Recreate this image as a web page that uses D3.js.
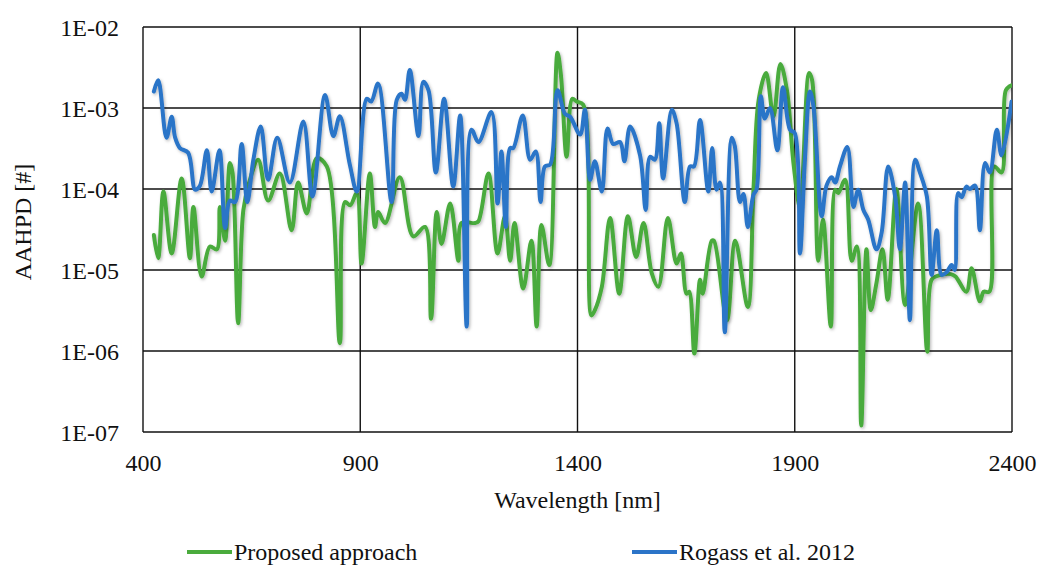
<!DOCTYPE html>
<html>
<head>
<meta charset="utf-8">
<script src="https://cdn.jsdelivr.net/npm/d3@7"></script>
<style>
  body { margin: 0; background: #fff; }
  svg { display: block; font-family: "Liberation Serif", "Times New Roman", serif; }
  .tick text { font-size: 24px; fill: #111; font-family: "Liberation Serif", "Times New Roman", serif; }
</style>
</head>
<body>
<div id="chart"></div>
<script>
// wavelength [nm] and AAHPD values
const proposedWl = [425, 435, 447, 466, 489, 508, 516, 535, 554, 570, 577, 589, 600, 606, 619, 631, 646, 665, 688, 715, 742, 757, 777, 800, 823, 853, 865, 877, 892, 903, 922, 934, 941, 957, 991, 1022, 1049, 1063, 1076, 1087, 1107, 1126, 1133, 1164, 1172, 1195, 1216, 1233, 1245, 1255, 1275, 1294, 1306, 1317, 1335, 1354, 1362, 1375, 1388, 1398, 1413, 1432, 1440, 1456, 1475, 1496, 1516, 1535, 1552, 1571, 1586, 1608, 1628, 1638, 1651, 1657, 1669, 1682, 1688, 1709, 1714, 1744, 1763, 1792, 1805, 1817, 1834, 1851, 1867, 1882, 1897, 1912, 1933, 1940, 1954, 1965, 1983, 1993, 2000, 2016, 2031, 2043, 2053, 2065, 2075, 2088, 2102, 2114, 2134, 2154, 2184, 2205, 2215, 2230, 2259, 2270, 2295, 2307, 2326, 2335, 2348, 2359, 2376, 2386, 2399];
const proposedVal = [2.7e-5, 1.4e-5, 9.3e-5, 1.6e-5, 1.35e-4, 1.4e-5, 6.0e-5, 8.3e-6, 1.95e-5, 1.8e-5, 6.0e-5, 2.3e-5, 2.1e-4, 1.6e-4, 2.2e-6, 5.5e-5, 1.3e-4, 2.3e-4, 7.2e-5, 1.55e-4, 3.1e-5, 1.2e-4, 5.0e-5, 2.4e-4, 1.9e-4, 1.25e-6, 6.9e-5, 6.3e-5, 8.9e-5, 1.2e-5, 1.55e-4, 3.4e-5, 5.2e-5, 3.8e-5, 1.4e-4, 2.6e-5, 3.4e-5, 2.5e-6, 5.2e-5, 2.1e-5, 6.6e-5, 1.3e-5, 3.8e-5, 3.8e-5, 4.0e-5, 1.55e-4, 1.6e-5, 4.6e-5, 1.3e-5, 3.8e-5, 5.9e-6, 2.3e-5, 2.0e-6, 3.6e-5, 1.15e-5, 4.8e-3, 2.5e-3, 2.5e-4, 1.3e-3, 1.2e-3, 1.1e-3, 2.75e-6, 3.2e-6, 6.2e-6, 4.4e-5, 5.1e-6, 4.6e-5, 1.45e-5, 3.8e-5, 9.1e-6, 6.2e-6, 4.4e-5, 1.2e-5, 1.6e-5, 5.1e-6, 5.4e-6, 9.3e-7, 7.6e-6, 5.1e-6, 2.3e-5, 2.3e-5, 2.4e-6, 2.3e-5, 3.5e-6, 9.8e-5, 1.26e-3, 2.7e-3, 7.8e-4, 3.5e-3, 1.66e-3, 2.1e-4, 6.0e-5, 2.7e-3, 2.2e-3, 1.3e-5, 4.2e-5, 2.0e-6, 9.8e-5, 8.9e-5, 1.3e-4, 1.3e-5, 1.95e-5, 1.2e-7, 1.8e-5, 3.2e-6, 6.9e-6, 1.8e-5, 4.3e-6, 1.0e-4, 3.7e-6, 6.6e-5, 9.8e-7, 7.6e-6, 8.5e-6, 8.9e-6, 8.3e-6, 5.4e-6, 1.05e-5, 4.1e-6, 5.4e-6, 5.4e-6, 1.9e-4, 1.6e-4, 1.66e-3, 1.9e-3];

const rogassWl = [425, 435, 454, 466, 474, 485, 504, 520, 531, 547, 558, 576, 589, 600, 612, 627, 640, 654, 671, 688, 709, 738, 769, 790, 819, 838, 853, 876, 892, 915, 925, 941, 972, 984, 995, 1003, 1014, 1034, 1045, 1057, 1074, 1093, 1114, 1130, 1145, 1156, 1172, 1202, 1216, 1225, 1235, 1245, 1252, 1274, 1291, 1304, 1315, 1325, 1337, 1354, 1371, 1383, 1406, 1417, 1429, 1440, 1456, 1469, 1482, 1498, 1508, 1521, 1544, 1557, 1567, 1578, 1588, 1597, 1617, 1628, 1647, 1659, 1668, 1682, 1701, 1710, 1720, 1728, 1739, 1755, 1762, 1774, 1782, 1792, 1805, 1812, 1822, 1831, 1843, 1860, 1873, 1889, 1900, 1912, 1923, 1935, 1943, 1962, 1973, 1985, 1993, 2004, 2021, 2035, 2046, 2058, 2069, 2088, 2100, 2115, 2131, 2142, 2154, 2165, 2177, 2188, 2204, 2215, 2227, 2238, 2250, 2261, 2268, 2276, 2284, 2295, 2303, 2315, 2326, 2338, 2349, 2365, 2376, 2399];
const rogassVal = [1.6e-3, 2.2e-3, 4.3e-4, 7.8e-4, 4.3e-4, 3.2e-4, 2.8e-4, 9.8e-5, 1.1e-4, 3.0e-4, 9.3e-5, 3.0e-4, 3.3e-5, 7.2e-5, 6.9e-5, 3.6e-4, 6.9e-5, 2.3e-4, 5.9e-4, 1.3e-4, 4.3e-4, 1.2e-4, 6.8e-4, 8.1e-5, 1.45e-3, 4.5e-4, 7.9e-4, 2.0e-4, 9.3e-5, 1.3e-3, 1.2e-3, 2.0e-3, 6.9e-5, 1.26e-3, 1.5e-3, 1.26e-3, 2.95e-3, 4.5e-4, 2.1e-3, 1.66e-3, 1.6e-4, 1.3e-3, 1.07e-4, 8.1e-4, 2.0e-6, 5.4e-4, 3.8e-4, 8.9e-4, 6.6e-5, 2.9e-4, 3.4e-5, 3.2e-4, 3.2e-4, 8.1e-4, 2.3e-4, 2.9e-4, 6.9e-5, 1.9e-4, 2.0e-4, 1.66e-3, 8.5e-4, 7.8e-4, 4.7e-4, 9.5e-4, 1.3e-4, 2.2e-4, 9.3e-5, 5.6e-4, 3.6e-4, 3.8e-4, 2.2e-4, 5.9e-4, 2.6e-4, 5.5e-5, 2.5e-4, 2.3e-4, 6.5e-4, 1.35e-4, 9.5e-4, 6.5e-4, 6.9e-5, 1.9e-4, 1.9e-4, 7.1e-4, 9.3e-5, 3.2e-4, 9.8e-5, 1.2e-4, 1.7e-6, 4.3e-4, 3.4e-4, 6.9e-5, 8.7e-5, 3.4e-5, 8.5e-5, 9.8e-5, 1.4e-3, 7.4e-4, 1.0e-3, 3.0e-4, 1.8e-3, 5.4e-4, 4.9e-4, 1.6e-5, 2.1e-4, 1.6e-3, 1.05e-3, 4.6e-5, 1.1e-4, 1.4e-4, 1.2e-4, 1.9e-4, 3.3e-4, 6.0e-5, 9.8e-5, 5.5e-5, 4.2e-5, 1.8e-5, 2.9e-5, 1.9e-4, 8.1e-5, 1.8e-5, 1.2e-4, 2.4e-6, 2.3e-4, 1.6e-4, 8.1e-5, 8.7e-6, 3.1e-5, 8.7e-6, 9.5e-6, 1.15e-5, 1.0e-5, 8.9e-5, 7.9e-5, 1.07e-4, 1.0e-4, 1.1e-4, 3.1e-5, 2.1e-4, 1.6e-4, 5.4e-4, 2.6e-4, 1.2e-3];

const xTicks = [400, 900, 1400, 1900, 2400];
const yTicks = [1e-7, 1e-6, 1e-5, 1e-4, 1e-3, 1e-2];

const series = [
  { name: "Proposed approach", color: "#4aab3d", wl: proposedWl, val: proposedVal },
  { name: "Rogass et al. 2012", color: "#2b74c8", wl: rogassWl, val: rogassVal }
];

const width = 1040, height = 565;
const margin = { left: 143, right: 28, top: 27, bottom: 133 };
const serif = "'Liberation Serif', 'Times New Roman', serif";
const svg = d3.select("#chart").append("svg").attr("width", width).attr("height", height);

const x = d3.scaleLinear().domain([400, 2400]).range([margin.left, width - margin.right]);
const y = d3.scaleLog().domain([1e-7, 1e-2]).range([height - margin.bottom, margin.top]);

const defs = svg.append("defs");
defs.append("clipPath").attr("id", "plot-clip").append("rect")
  .attr("x", x(400)).attr("y", y(1e-2) - 2).attr("width", x(2400) - x(400)).attr("height", y(1e-7) - y(1e-2) + 2);
const shadow = defs.append("filter").attr("id", "shadow").attr("x", "-5%").attr("y", "-5%").attr("width", "110%").attr("height", "110%");
shadow.append("feDropShadow").attr("dx", 1.2).attr("dy", 1.5).attr("stdDeviation", 1.4)
  .attr("flood-color", "#000").attr("flood-opacity", 0.28);

// grid
const grid = svg.append("g");
grid.selectAll("line.h").data(yTicks).join("line").attr("class", "h")
  .attr("x1", x(400)).attr("x2", x(2400)).attr("y1", (d) => y(d)).attr("y2", (d) => y(d))
  .attr("stroke", "#111").attr("stroke-width", 1.4);
grid.selectAll("line.v").data(xTicks).join("line").attr("class", "v")
  .attr("y1", y(1e-2)).attr("y2", y(1e-7)).attr("x1", (d) => x(d)).attr("x2", (d) => x(d))
  .attr("stroke", "#111").attr("stroke-width", 1.4);

// axes (labels only)
const yAxis = svg.append("g").attr("transform", `translate(${x(400) - 24},0)`)
  .call(d3.axisLeft(y).tickValues(yTicks).tickSize(0)
    .tickFormat((d) => "1E-" + String(-Math.round(Math.log10(d))).padStart(2, "0")));
yAxis.attr("font-family", serif).attr("font-size", 24);
yAxis.select(".domain").remove();
yAxis.selectAll("text").attr("dy", "0.34em").attr("x", 0);

const xAxis = svg.append("g").attr("transform", `translate(0,${y(1e-7) + 22})`)
  .call(d3.axisBottom(x).tickValues(xTicks).tickSize(0).tickFormat(d3.format("d")));
xAxis.attr("font-family", serif).attr("font-size", 24);
xAxis.select(".domain").remove();
xAxis.selectAll("text").attr("dy", "0.71em").attr("y", 0);

// titles
svg.append("text").attr("x", (x(400) + x(2400)) / 2).attr("y", 508).attr("text-anchor", "middle")
  .attr("font-size", 24).attr("fill", "#111").text("Wavelength [nm]");
svg.append("text").attr("transform", "translate(31,222) rotate(-90)").attr("text-anchor", "middle")
  .attr("font-size", 24).attr("fill", "#111").text("AAHPD [#]");

// series
const line = d3.line().x((d) => x(d[0])).y((d) => y(d[1])).curve(d3.curveCatmullRom.alpha(0.5));
svg.append("g").attr("clip-path", "url(#plot-clip)")
  .selectAll("path").data(series).join("path")
  .attr("d", (s) => line(s.wl.map((w, i) => [w, s.val[i]])))
  .attr("fill", "none").attr("stroke", (s) => s.color).attr("stroke-width", 4)
  .attr("stroke-linejoin", "round").attr("stroke-linecap", "round").attr("filter", "url(#shadow)");

// legend
const legendX = [187, 632];
const legend = svg.append("g").selectAll("g").data(series).join("g")
  .attr("transform", (d, i) => `translate(${legendX[i]},552)`);
legend.append("line").attr("x1", 0).attr("x2", 45).attr("stroke", (d) => d.color).attr("stroke-width", 4);
legend.append("text").attr("x", 47).attr("dy", "0.34em").attr("font-size", 24).attr("fill", "#111").text((d) => d.name);
</script>
</body>
</html>
